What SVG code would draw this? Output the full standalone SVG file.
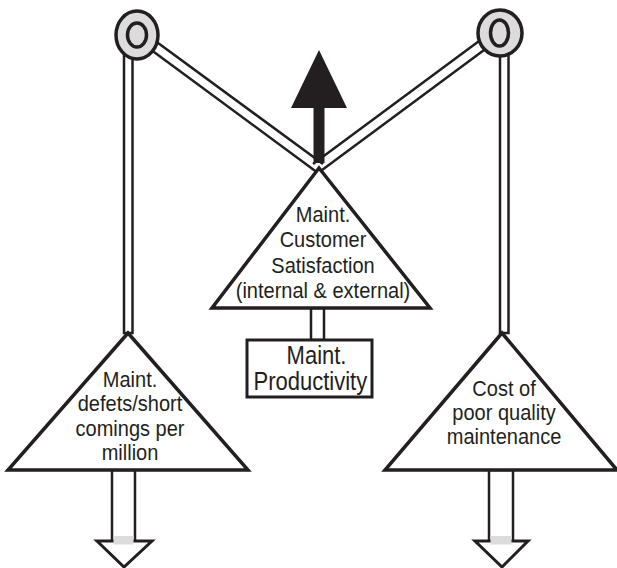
<svg xmlns="http://www.w3.org/2000/svg" width="617" height="568" viewBox="0 0 617 568">
<style>
  .ln{fill:none;stroke:#231f20;stroke-width:2.5}
  .band{fill:#fff;stroke:#231f20;stroke-width:2.5}
  .tri{fill:#fff;stroke:#231f20;stroke-width:3.5;stroke-linejoin:miter}
  .pul{fill:#dcdcdc;stroke:#231f20;stroke-width:3.5}
  .gray{fill:#dcdcdc}
  .dark{fill:#231f20}
  text{font-family:"Liberation Sans",Arial,sans-serif;fill:#231f20;text-anchor:middle}
  .t22{font-size:22px}
  .t25{font-size:25px}
</style>
<rect width="617" height="568" fill="#fff"/>
<g id="connectors">
  <rect class="band" x="124" y="45" width="8.5" height="288"/>
  <rect class="band" x="500" y="45" width="8.5" height="288"/>
  <line class="ln" x1="139" y1="29" x2="323" y2="164"/>
  <line class="ln" x1="135" y1="38" x2="318" y2="173"/>
  <line class="ln" x1="498" y1="27" x2="313" y2="164"/>
  <line class="ln" x1="503" y1="36" x2="318" y2="173"/>
  <rect class="dark" x="313.5" y="104" width="11" height="59"/>
  <polygon class="dark" points="319,50 291,108 347,108"/>
  <rect class="band" x="311" y="308" width="13" height="32"/>
  <rect class="band" x="112" y="470" width="23" height="72"/>
  <polygon class="band" style="stroke-width:3" points="97,541 152,541 124,567"/>
  <rect class="gray" x="113.5" y="536" width="20" height="8.5"/>
  <rect class="band" x="489" y="470" width="24" height="72"/>
  <polygon class="band" style="stroke-width:3" points="475,541 528,541 502,567"/>
  <rect class="gray" x="490.5" y="536" width="21" height="8.5"/>
</g>
<g id="pulley-left">
  <ellipse class="pul" cx="137" cy="35" rx="21" ry="24"/>
  <ellipse class="pul" cx="137" cy="35" rx="9.5" ry="12"/>
</g>
<g id="pulley-right">
  <ellipse class="pul" cx="500" cy="33" rx="22" ry="23"/>
  <ellipse class="pul" cx="499.5" cy="33" rx="9" ry="13"/>
</g>
<g id="satisfaction">
  <polygon class="tri" points="319,168 212,308 430,308"/>
  <g transform="translate(323 0) scale(0.91 1)">
    <text class="t22" x="0" y="222">Maint.</text>
    <text class="t22" x="0" y="247">Customer</text>
    <text class="t22" x="0" y="273">Satisfaction</text>
    <text class="t22" x="0" y="298">(internal &amp; external)</text>
  </g>
</g>
<g id="productivity">
  <rect x="247" y="340" width="125" height="57" fill="#fff" stroke="#231f20" stroke-width="3"/>
  <g transform="translate(313 0) scale(0.88 1)">
    <text class="t25" x="4" y="364">Maint.</text>
    <text class="t25" x="-3" y="390">Productivity</text>
  </g>
</g>
<g id="defects">
  <polygon class="tri" points="128,333 8,470 248,470"/>
  <g transform="translate(130 0) scale(0.91 1)">
    <text class="t22" x="0" y="387">Maint.</text>
    <text class="t22" x="0" y="411">defets/short</text>
    <text class="t22" x="0" y="436">comings per</text>
    <text class="t22" x="0" y="460">million</text>
  </g>
</g>
<g id="cost">
  <polygon class="tri" points="502,333 385,470 617,470"/>
  <g transform="translate(504 0) scale(0.91 1)">
    <text class="t22" x="0" y="396">Cost of</text>
    <text class="t22" x="0" y="420">poor quality</text>
    <text class="t22" x="0" y="444">maintenance</text>
  </g>
</g>
</svg>
